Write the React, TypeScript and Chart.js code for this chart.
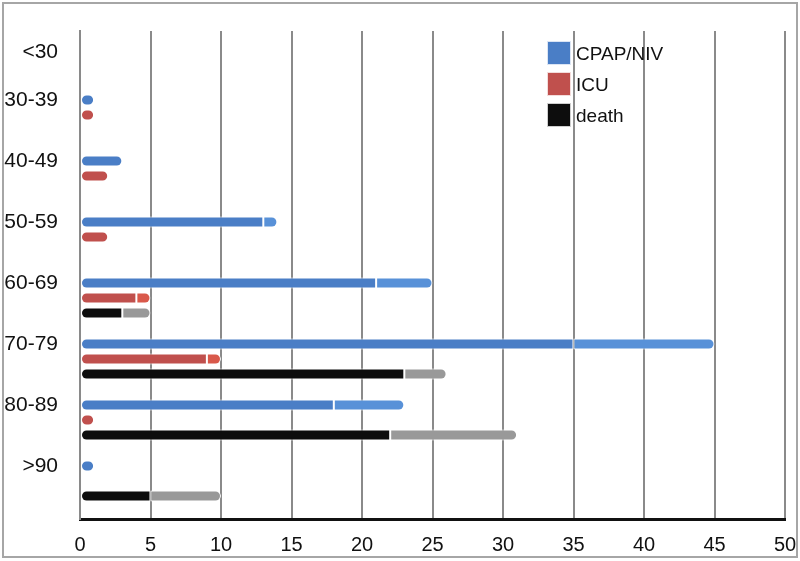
import React, { useEffect, useRef } from "react";
import { Chart, registerables } from "chart.js";

Chart.register(...registerables);

const categories = ["<30", "30-39", "40-49", "50-59", "60-69", "70-79", "80-89", ">90"];
const cpapBase = [0, 1, 3, 13, 21, 35, 18, 1];
const cpapExtra = [0, 0, 0, 1, 4, 10, 5, 0];
const icuBase = [0, 1, 2, 2, 4, 9, 1, 0];
const icuExtra = [0, 0, 0, 0, 1, 1, 0, 0];
const deathBase = [0, 0, 0, 0, 3, 23, 22, 5];
const deathExtra = [0, 0, 0, 0, 2, 3, 9, 5];
const xTicks = [0, 5, 10, 15, 20, 25, 30, 35, 40, 45, 50];
const legendLabels = ["CPAP/NIV", "ICU", "death"];

const BLUE = "#4a7ec6";
const BLUE_L = "#5891d8";
const RED = "#c0504d";
const RED_L = "#d9594b";
const BLACK = "#0d0d0d";
const GREY = "#999999";
const legendColors = [BLUE, RED, BLACK];

const FONT = "'Liberation Sans', Arial, sans-serif";
const R = 6;

const nz = (arr: number[]) => arr.map((v) => (v === 0 ? null : v));

export default function App() {
  const ref = useRef<HTMLCanvasElement | null>(null);

  useEffect(() => {
    if (!ref.current) return;
    const common = {
      borderColor: "#ffffff",
      borderWidth: 1,
      borderSkipped: false as const,
      categoryPercentage: 0.984,
      barPercentage: 0.74,
    };
    const baseRadius = (extra: number[]) => (ctx: any) =>
      extra[ctx.dataIndex] ? { topLeft: R, bottomLeft: R, topRight: 0, bottomRight: 0 } : R;
    const extraRadius = { topLeft: 0, bottomLeft: 0, topRight: R, bottomRight: R };

    const framePlugin = {
      id: "frame",
      beforeDraw(chart: any) {
        const ctx = chart.ctx;
        ctx.save();
        ctx.fillStyle = "#ffffff";
        ctx.fillRect(0, 0, chart.width, chart.height);
        ctx.strokeStyle = "#a6a6a6";
        ctx.lineWidth = 2;
        ctx.strokeRect(3, 3, chart.width - 6, chart.height - 7);
        ctx.restore();
      },
      afterDraw(chart: any) {
        const ctx = chart.ctx;
        ctx.save();
        // category labels: aligned with the group's top bar, or nearer the slot centre for empty groups
        const yScale = chart.scales.y;
        ctx.fillStyle = "#111111";
        ctx.font = `21px ${FONT}`;
        ctx.textBaseline = "middle";
        ctx.textAlign = "right";
        categories.forEach((lab, i) => {
          const empty = cpapBase[i] + icuBase[i] + deathBase[i] === 0;
          const y = yScale.getPixelForValue(i) + (empty ? -9 : -22);
          ctx.fillText(lab, chart.chartArea.left - 22, y);
        });
        // legend
        const x0 = 547;
        legendLabels.forEach((lab, i) => {
          const y = 41 + i * 31;
          ctx.fillStyle = legendColors[i];
          ctx.fillRect(x0, y, 24, 24);
          ctx.strokeStyle = "rgba(255,255,255,0.8)";
          ctx.lineWidth = 1;
          ctx.strokeRect(x0 + 0.5, y + 0.5, 23, 23);
          ctx.fillStyle = "#111111";
          ctx.font = `19px ${FONT}`;
          ctx.textBaseline = "middle";
          ctx.textAlign = "left";
          ctx.fillText(lab, x0 + 29, y + 14);
        });
        ctx.restore();
      },
    };

    const chart = new Chart(ref.current, {
      type: "bar",
      data: {
        labels: categories,
        datasets: [
          { label: "CPAP/NIV", data: nz(cpapBase), backgroundColor: BLUE, stack: "a", borderRadius: baseRadius(cpapExtra), ...common },
          { label: "CPAP/NIV+", data: nz(cpapExtra), backgroundColor: BLUE_L, stack: "a", borderRadius: extraRadius, ...common },
          { label: "ICU", data: nz(icuBase), backgroundColor: RED, stack: "b", borderRadius: baseRadius(icuExtra), ...common },
          { label: "ICU+", data: nz(icuExtra), backgroundColor: RED_L, stack: "b", borderRadius: extraRadius, ...common },
          { label: "death", data: nz(deathBase), backgroundColor: BLACK, stack: "c", borderRadius: baseRadius(deathExtra), ...common },
          { label: "death+", data: nz(deathExtra), backgroundColor: GREY, stack: "c", borderRadius: extraRadius, ...common },
          { label: "", data: categories.map(() => null), backgroundColor: "transparent", stack: "d", ...common },
        ] as any,
      },
      options: {
        indexAxis: "y",
        animation: false,
        responsive: false,
        layout: { padding: { top: 31, right: 15, left: 0, bottom: 0 } },
        plugins: { legend: { display: false }, tooltip: { enabled: false } },
        scales: {
          x: {
            stacked: true,
            min: 0,
            max: 50,
            afterBuildTicks(scale: any) {
              scale.ticks = xTicks.map((v) => ({ value: v }));
            },
            afterFit(scale: any) {
              scale.height = 42;
              scale.paddingLeft = 0;
              scale.paddingRight = 0;
            },
            grid: { color: "#8a8a8a", lineWidth: 2, drawTicks: false },
            border: { display: true, color: "#111111", width: 3 },
            ticks: {
              color: "#111111",
              font: { family: FONT, size: 20 },
              padding: 14,
              maxRotation: 0,
            },
          },
          y: {
            stacked: true,
            afterFit(scale: any) {
              scale.width = 80;
              scale.paddingTop = 0;
              scale.paddingBottom = 0;
            },
            grid: { display: false, drawTicks: false },
            border: { display: true, color: "#8a8a8a", width: 2 },
            ticks: { display: false },
          },
        },
      },
      plugins: [framePlugin],
    });
    return () => chart.destroy();
  }, []);

  return (
    <div style={{ position: "fixed", left: 0, top: 0, width: 800, height: 561 }}>
      <canvas ref={ref} width={800} height={561} />
    </div>
  );
}
